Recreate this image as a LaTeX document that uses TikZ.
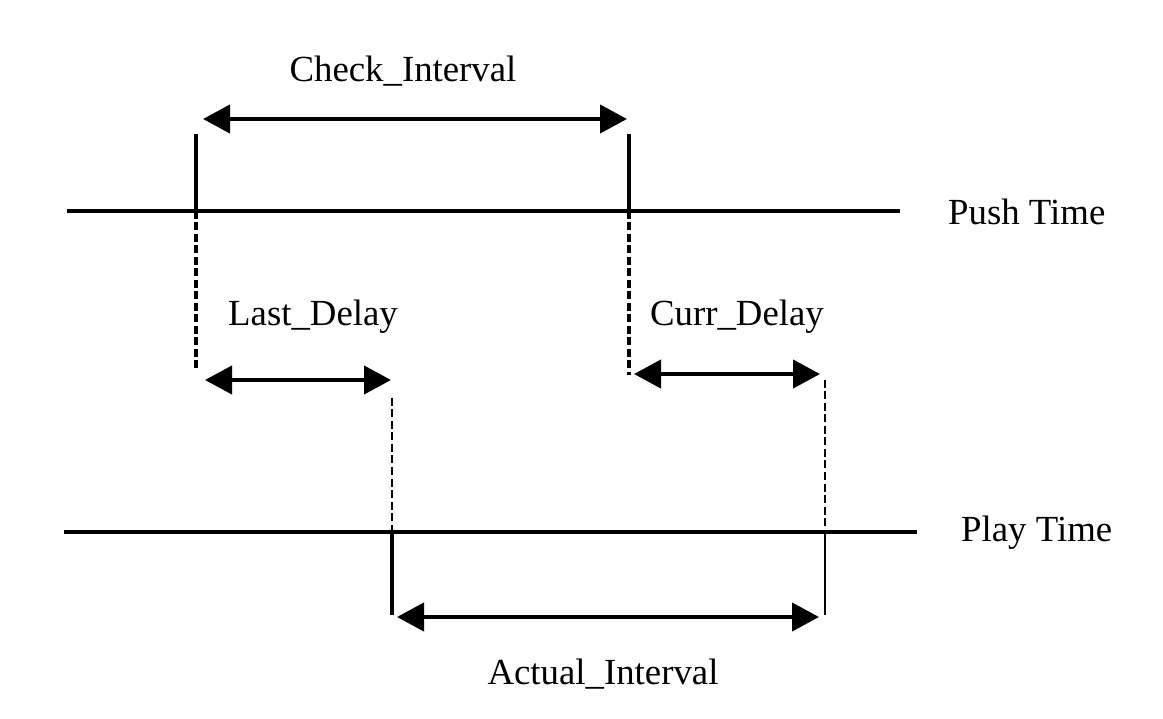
\documentclass[tikz,border=0pt]{standalone}
\usepackage{fontspec}
\setmainfont{Liberation Serif}
\usetikzlibrary{arrows.meta}
\tikzset{
  axisline/.style={line width=3.6pt},
  tick/.style={line width=3.6pt},
  dashtick/.style={line width=3.4pt, dash pattern=on 8pt off 3.5pt},
  thindash/.style={line width=2.6pt, dash pattern=on 8pt off 3.5pt},
  thintick/.style={line width=2.8pt},
  dimarrow/.style={line width=4.2pt, {Triangle[length=27pt,width=28pt]}-{Triangle[length=27pt,width=28pt]}},
  lbl/.style={font=\fontsize{36.8}{42}\selectfont, inner sep=0pt}
}
\begin{document}
\begin{tikzpicture}[x=1pt,y=-1pt]
\useasboundingbox (0,0) rectangle (1163,719);
% axis endpoints
\coordinate (pushL) at (67,211);
\coordinate (pushR) at (900,211);
\coordinate (playL) at (64,532);
\coordinate (playR) at (917,532);
% tick endpoints
\coordinate (a1) at (196,134); \coordinate (a2) at (196,211); \coordinate (a3) at (196,371);
\coordinate (b1) at (629,134); \coordinate (b2) at (629,211); \coordinate (b3) at (629,375);
\coordinate (c1) at (392,398); \coordinate (c2) at (392,532); \coordinate (c3) at (392,615);
\coordinate (d1) at (825,380); \coordinate (d2) at (825,532); \coordinate (d3) at (825,615);
% arrow endpoints
\coordinate (ciL) at (203,119); \coordinate (ciR) at (627,119);
\coordinate (ldL) at (205,380); \coordinate (ldR) at (391,380);
\coordinate (cdL) at (634,374); \coordinate (cdR) at (820,374);
\coordinate (aiL) at (397,617); \coordinate (aiR) at (819,617);

\draw[axisline] (pushL) -- (pushR);
\draw[axisline] (playL) -- (playR);

\draw[tick] (a1) -- (a2);
\draw[dashtick] (a2) -- (a3);
\draw[tick] (b1) -- (b2);
\draw[dashtick] (b2) -- (b3);
\draw[thindash] (c1) -- (c2);
\draw[tick] (c2) -- (c3);
\draw[thindash] (d1) -- (d2);
\draw[thintick] (d2) -- (d3);

\draw[dimarrow] (ciL) -- (ciR);
\draw[dimarrow] (ldL) -- (ldR);
\draw[dimarrow] (cdL) -- (cdR);
\draw[dimarrow] (aiL) -- (aiR);

\node[lbl] (ci) at (403,71) {Check\_Interval};
\node[lbl] (ld) at (313,317) {Last\_Delay};
\node[lbl] (cd) at (737,317) {Curr\_Delay};
\node[lbl] (ai) at (603,674) {Actual\_Interval};
\node[lbl, anchor=west] (pt) at (948,212) {Push Time};
\node[lbl, anchor=west] (pl) at (961,533) {Play Time};
\end{tikzpicture}
\end{document}
